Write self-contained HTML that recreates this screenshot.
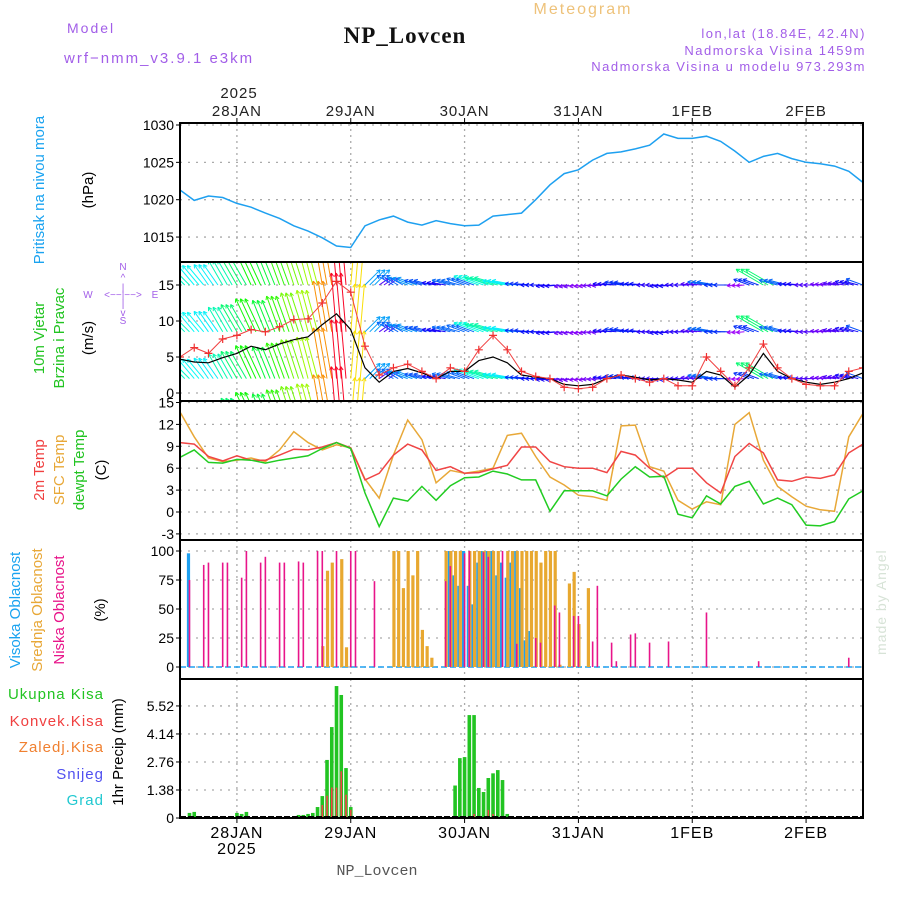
<!DOCTYPE html>
<html><head><meta charset="utf-8">
<style>
html,body{margin:0;padding:0;background:#fff;}
svg{display:block;font-family:"Liberation Sans",sans-serif;}
.tk{font-size:14px;fill:#000;}
</style></head>
<body>
<svg id="chart" width="900" height="900" viewBox="0 0 900 900" xmlns="http://www.w3.org/2000/svg">
<defs>
<clipPath id="cpP"><rect x="180" y="123" width="683" height="139"/></clipPath>
<clipPath id="cpW"><rect x="180" y="262" width="683" height="139"/></clipPath>
<clipPath id="cpT"><rect x="180" y="401" width="683" height="139"/></clipPath>
<clipPath id="cpC"><rect x="180" y="540" width="683" height="139"/></clipPath>
<clipPath id="cpR"><rect x="180" y="679" width="683" height="139"/></clipPath>
</defs>
<text x="67" y="33" font-size="14" fill="#a25ee8" letter-spacing="2">Model</text>
<text x="64" y="63" font-size="15" fill="#a25ee8" letter-spacing="2">wrf−nmm_v3.9.1 e3km</text>
<text x="405" y="43" font-size="23" font-weight="bold" text-anchor="middle" fill="#111" font-family="Liberation Serif, serif" letter-spacing="1">NP_Lovcen</text>
<text x="583" y="14" font-size="16" text-anchor="middle" fill="#eec27a" letter-spacing="2">Meteogram</text>
<text x="866" y="38" font-size="13" text-anchor="end" fill="#a25ee8" letter-spacing="1.5">lon,lat (18.84E, 42.4N)</text>
<text x="866" y="55" font-size="13" text-anchor="end" fill="#a25ee8" letter-spacing="1.5">Nadmorska Visina 1459m</text>
<text x="866" y="71" font-size="13" text-anchor="end" fill="#a25ee8" letter-spacing="1.5">Nadmorska Visina u modelu 973.293m</text>
<text x="239" y="98" font-size="15" text-anchor="middle" fill="#222" letter-spacing="1">2025</text>
<text x="377" y="875" font-size="15" text-anchor="middle" fill="#555" font-family="Liberation Mono, monospace">NP_Lovcen</text>
<text transform="translate(886,655) rotate(-90)" font-size="14" fill="#d7e3d7" letter-spacing="1">made by Angel</text>
<text transform="translate(44,190) rotate(-90)" font-size="15" fill="#1aa3f0" text-anchor="middle">Pritisak na nivou mora</text>
<text transform="translate(93,190) rotate(-90)" font-size="15" fill="#000" text-anchor="middle">(hPa)</text>
<text transform="translate(44,338) rotate(-90)" font-size="15" fill="#22c422" text-anchor="middle">10m Vjetar</text>
<text transform="translate(64,338) rotate(-90)" font-size="15" fill="#22c422" text-anchor="middle">Brzina i Pravac</text>
<text transform="translate(93,338) rotate(-90)" font-size="15" fill="#000" text-anchor="middle">(m/s)</text>
<g font-size="10" fill="#a25ee8" text-anchor="middle">
<text x="123" y="270">N</text><text x="123" y="281">^</text><text x="123" y="291">|</text>
<text x="88" y="298">W</text><text x="123" y="298">&lt;−−|−−&gt;</text><text x="155" y="298">E</text>
<text x="123" y="307">|</text><text x="123" y="316">v</text><text x="123" y="324">S</text>
</g>
<text transform="translate(44,470) rotate(-90)" font-size="15" fill="#f04040" text-anchor="middle">2m Temp</text>
<text transform="translate(64,470) rotate(-90)" font-size="15" fill="#e8a838" text-anchor="middle">SFC Temp</text>
<text transform="translate(84,470) rotate(-90)" font-size="15" fill="#22c422" text-anchor="middle">dewpt Temp</text>
<text transform="translate(106,470) rotate(-90)" font-size="15" fill="#000" text-anchor="middle">(C)</text>
<text transform="translate(20,610) rotate(-90)" font-size="15" fill="#1aa3f0" text-anchor="middle">Visoka Oblacnost</text>
<text transform="translate(42,610) rotate(-90)" font-size="15" fill="#e8a838" text-anchor="middle">Srednja Oblacnost</text>
<text transform="translate(64,610) rotate(-90)" font-size="15" fill="#e8158a" text-anchor="middle">Niska Oblacnost</text>
<text transform="translate(105,610) rotate(-90)" font-size="15" fill="#000" text-anchor="middle">(%)</text>
<g font-size="15" text-anchor="end" letter-spacing="1">
<text x="104" y="699" fill="#22c422">Ukupna Kisa</text>
<text x="104" y="726" fill="#f04040">Konvek.Kisa</text>
<text x="104" y="752" fill="#f08030">Zaledj.Kisa</text>
<text x="104" y="779" fill="#5050f0">Snijeg</text>
<text x="104" y="805" fill="#20c8d0">Grad</text>
</g>
<text transform="translate(123,752) rotate(-90)" font-size="15" fill="#000" text-anchor="middle">1hr Precip (mm)</text>
<g id="grid"></g>
<g id="marks"></g>
<g id="frames"></g>
</svg>
<script>
const dayLabels = ["28JAN","29JAN","30JAN","31JAN","1FEB","2FEB"];
const pressure = [1021.3,1019.9,1020.5,1020.3,1019.5,1019.0,1018.2,1017.5,1016.5,1015.8,1014.9,1013.8,1013.6,1016.5,1017.3,1017.8,1017.0,1016.6,1017.2,1016.8,1016.5,1016.6,1017.8,1018.0,1018.2,1020.0,1022.0,1023.5,1024.0,1025.3,1026.2,1026.4,1026.8,1027.3,1028.8,1028.2,1028.2,1028.5,1027.8,1026.5,1025.0,1025.8,1026.2,1025.5,1025.0,1024.8,1024.5,1023.8,1022.3];
const windSpeed = [4.7,4.3,4.2,4.9,5.5,6.5,6.0,6.8,7.4,7.8,9.5,11.0,8.8,3.5,1.5,3.0,3.4,2.8,2.0,3.0,3.0,4.5,5.0,4.2,2.5,2.2,2.0,1.2,1.0,1.2,2.0,2.5,2.2,1.8,2.0,1.8,1.5,3.0,2.5,0.8,2.5,5.5,3.0,2.0,1.5,1.2,1.5,2.0,2.8];
const windGust = [5.0,6.3,5.5,7.5,8.0,8.8,8.5,9.2,10.2,10.3,12.5,15.5,14.0,6.5,2.5,3.5,4.0,3.0,2.0,3.5,3.0,6.0,8.0,6.0,3.0,2.3,2.0,0.8,0.6,0.8,2.0,2.5,2.0,1.5,2.0,1.0,1.0,5.0,3.0,1.0,3.5,6.8,3.5,2.0,1.2,1.0,1.0,3.0,3.5];
const windDir = [135,130,125,120,120,115,112,110,108,105,100,95,85,45,35,150,160,165,170,165,160,160,165,170,175,180,185,190,190,185,175,170,175,180,185,180,175,170,180,185,160,150,165,175,180,175,170,165,160];
const temp2m = [9.5,9.3,7.6,7.0,7.7,7.1,7.1,7.8,8.6,8.5,8.9,9.5,8.8,4.4,5.3,7.8,9.3,8.5,5.7,6.2,5.3,5.4,5.9,6.4,8.9,8.9,6.9,6.2,6.0,6.0,5.4,8.3,7.8,6.0,4.7,6.0,6.0,4.0,2.6,7.6,9.4,8.1,4.4,4.2,4.8,4.6,5.1,8.1,9.3];
const tempSfc = [13.7,10.3,7.4,6.9,7.1,7.4,6.9,8.5,11.0,9.5,8.5,9.2,8.8,4.5,1.9,7.8,12.6,9.9,4.0,5.7,5.3,5.6,6.0,10.5,10.8,7.6,4.8,3.7,2.3,2.1,1.6,11.8,11.9,6.2,5.6,1.6,0.4,1.4,1.0,12.0,13.6,7.1,3.5,2.1,0.8,0.3,0.1,10.3,13.5];
const tempDew = [7.5,8.5,6.8,6.7,7.2,7.1,6.7,7.1,7.4,7.7,8.7,9.5,8.7,2.6,-2.0,1.9,1.5,3.5,1.6,3.6,4.7,4.8,5.6,5.2,4.4,4.4,0.1,2.9,2.9,2.9,2.2,4.5,6.2,4.8,4.9,-0.3,-0.8,2.2,1.1,3.5,4.2,1.1,1.9,1.0,-1.8,-1.9,-1.3,1.8,2.9];
const lowHours = [2,5,6,9,10,13,14,17,18,21,22,25,26,29,30,33,36,37,41,56,57,60,61,64,65,68,71,75,76,79,80,83,84,87,88,91,92,95,96,99,103,111,122,141];
const lowPct   = [75,88,90,90,90,77,100,90,95,90,90,91,90,100,100,100,100,100,74,74,87,98,100,99,95,100,20,25,21,53,47,44,44,22,70,21,5,28,29,21,22,47,5,8];
const midHours = [30,31,32,34,35,45,46,47,48,49,50,51,52,53,56,57,58,59,61,62,63,64,65,66,67,69,70,71,72,73,74,75,76,77,78,79,80,82,83,84,86];
const midPct   = [18,83,90,93,17,100,100,68,100,79,100,32,18,8,100,100,100,100,100,100,100,100,100,100,100,100,100,100,100,100,100,100,90,100,100,100,2,72,82,37,68];
const highHours = [2,57,58,59,60,61,62,63,64,65,66,67,68,69,70,71,72,73,74];
const highPct   = [98,100,79,70,100,70,54,90,100,100,100,79,90,77,90,100,68,23,31];
const precipHours = [2,3,12,13,14,23,25,26,27,28,29,30,31,32,33,34,35,36,57,58,59,60,61,62,63,64,65,66,67,68,69,144];
const precipTotal = [0.25,0.3,0.25,0.2,0.3,0.05,0.15,0.15,0.2,0.25,0.54,1.08,2.86,4.48,6.5,6.06,2.46,0.54,0.05,1.6,2.95,3.0,5.07,5.07,1.48,1.28,1.97,2.2,2.36,1.87,0.2,0.1];
const precipConv  = [0,0,0,0,0,0,0,0,0,0,0,0.64,1.1,1.5,1.5,2.3,1.15,0.4,0,0,0,0,0,0.2,0,0,0.4,0.2,0,0,0,0];
const pTicks = [1015,1020,1025,1030];
const wTicks = [0,5,10,15];
const tTicks = [-3,0,3,6,9,12,15];
const cTicks = [0,25,50,75,100];
const rTicks = [0,1.38,2.76,4.14,5.52];
const arrowRows = [15,8.5,2,-4.5];

const NS="http://www.w3.org/2000/svg";
const X = h => 180 + h*4.743;
const yP = p => 125 + (1030-p)*7.47;
const yW = s => 393 - s*7.2;
const yT = t => 512 - t*7.3;
const yC = c => 667 - c*1.16;
const yR = r => 818 - r*20.3;
function mk(tag, attrs, parent){const e=document.createElementNS(NS,tag);for(const k in attrs)e.setAttribute(k,attrs[k]);parent.appendChild(e);return e;}
const grid=document.getElementById('grid'), marks=document.getElementById('marks'), frames=document.getElementById('frames');
const panels=[{top:123,ys:yP,ticks:pTicks,name:'pressure'},{top:262,ys:yW,ticks:wTicks,name:'wind'},{top:401,ys:yT,ticks:tTicks,name:'temp'},{top:540,ys:yC,ticks:cTicks,name:'cloud'},{top:679,ys:yR,ticks:rTicks,name:'precip'}];
panels.forEach(p=>{
  p.ticks.forEach(v=>{
    const y=p.ys(v);
    const g=mk('line',{x1:180,x2:863,y1:y,y2:y,stroke:'#aaa','stroke-width':1.3,'stroke-dasharray':'2,6'},grid);
    
    
    const t=mk('text',{x:174,y:y+5,'text-anchor':'end',class:'tk'},grid);
    t.textContent=v;
    
    
    mk('line',{x1:176,x2:180,y1:y,y2:y,stroke:'#000'},grid);
  });
  dayLabels.forEach((d,k)=>{
    const x=X(12+24*k);
    const g=mk('line',{x1:x,x2:x,y1:p.top,y2:p.top+139,stroke:'#aaa','stroke-width':1.3,'stroke-dasharray':'2,4'},grid);
    
    
  });
});
dayLabels.forEach((d,k)=>{
  const x=X(12+24*k);
  const t=mk('text',{x:x,y:116,'text-anchor':'middle','font-size':15,fill:'#222','letter-spacing':1},grid);
  t.textContent=d;
  
  
  const b=mk('text',{x:x,y:838,'text-anchor':'middle','font-size':16,fill:'#000','letter-spacing':1},grid);
  b.textContent=d;
  
  
  mk('line',{x1:x,x2:x,y1:818,y2:823,stroke:'#000'},grid);
  mk('line',{x1:x,x2:x,y1:118,y2:123,stroke:'#000'},grid);
});
const by=mk('text',{x:X(12),y:854,'text-anchor':'middle','font-size':16,fill:'#000','letter-spacing':1},grid);
by.textContent='2025';



function line(arr, ys, color, name, clip, w){
  const pts=arr.map((v,i)=>X(3*i).toFixed(1)+','+ys(v).toFixed(1)).join(' ');
  const e=mk('polyline',{points:pts,fill:'none',stroke:color,'stroke-width':w||1.5,'clip-path':clip},marks);
  
  
  return e;
}
line(pressure,yP,'#1ea0f0','pressure-line','url(#cpP)');
const wg=mk('g',{'clip-path':'url(#cpW)'},marks);


windSpeed.forEach((s,i)=>{
  const reps = i<windSpeed.length-1?3:1;
  for(let r=0;r<reps;r++){
    const h=3*i+r, x=X(h);
    const a=windDir[i]*Math.PI/180, L=s*5+4;
    const hue=((300-28*s)%360+360)%360, col='hsl('+hue+',95%,50%)';
    arrowRows.forEach(lv=>{
      const y0=yW(lv), x1=x+L*Math.cos(a), y1=y0-L*Math.sin(a);
      const g=mk('g',{stroke:col,'stroke-width':1,fill:'none'},wg);
      
      
      mk('line',{x1:x,y1:y0,x2:x1,y2:y1},g);
      const hl=4;
      [a+Math.PI-0.5,a+Math.PI+0.5].forEach(b=>mk('line',{x1:x1,y1:y1,x2:x1+hl*Math.cos(b),y2:y1-hl*Math.sin(b)},g));
    });
  }
});
line(windSpeed,yW,'#000','wind-speed-line','url(#cpW)',1.2);
line(windGust,yW,'#f04040','wind-gust-line','url(#cpW)',1);
windGust.forEach((g,i)=>{
  const x=X(3*i), y=yW(g);
  const c=mk('path',{d:`M${x-4},${y}H${x+4}M${x},${y-4}V${y+4}`,stroke:'#f03030','stroke-width':1.2,'clip-path':'url(#cpW)'},marks);
  
  
});
line(tempSfc,yT,'#e8a838','sfc-temp-line','url(#cpT)');
line(temp2m,yT,'#f04545','temp-2m-line','url(#cpT)');
line(tempDew,yT,'#22cc22','dewpoint-line','url(#cpT)');
const bl=mk('line',{x1:180,x2:863,y1:yC(0),y2:yC(0),stroke:'#1ea0f0','stroke-width':1.5,'stroke-dasharray':'6,3'},marks);


function bars(hours, vals, ys, color, w, off, name, clip){
  hours.forEach((h,i)=>{
    const x=X(h)+off, y=ys(vals[i]), y0=ys(0);
    const b=mk('rect',{x:x-w/2,y:Math.min(y,y0),width:w,height:Math.abs(y0-y),fill:color,'clip-path':clip},marks);
    
    
  });
}
bars(highHours,highPct,yC,'#1ea0f0',3.2,-1,'high-cloud-bar','url(#cpC)');
bars(midHours,midPct,yC,'#e8a830',3.2,0.5,'mid-cloud-bar','url(#cpC)');
bars(lowHours,lowPct,yC,'#e8158a',1.6,0,'low-cloud-bar','url(#cpC)');
bars(precipHours,precipTotal,yR,'#22c422',3.6,0,'precip-total-bar','url(#cpR)');
bars(precipHours,precipConv,yR,'#f04545',1.6,0,'precip-convective-bar','url(#cpR)');
const pz=mk('line',{x1:180,x2:863,y1:817,y2:817,stroke:'#000','stroke-width':2,'stroke-dasharray':'6,2'},marks);


panels.forEach(p=>{
  const f=mk('rect',{x:180,y:p.top,width:683,height:139,fill:'none',stroke:'#000','stroke-width':2},frames);
  
  
});
</script>
</body></html>
